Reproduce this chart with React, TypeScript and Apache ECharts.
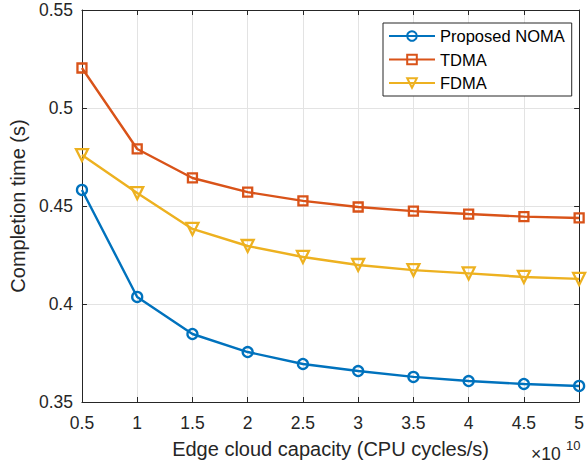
import React, { useEffect, useRef } from "react";
import * as echarts from "echarts";

const capacity = [0.5, 1, 1.5, 2, 2.5, 3, 3.5, 4, 4.5, 5];
const nomaTime = [0.4582, 0.4036, 0.3847, 0.3755, 0.3694, 0.3658, 0.3628, 0.3607, 0.3592, 0.3582];
const tdmaTime = [0.5204, 0.4791, 0.4643, 0.4571, 0.4526, 0.4495, 0.4474, 0.4459, 0.4446, 0.4439];
const fdmaTime = [0.476, 0.4566, 0.4383, 0.4296, 0.424, 0.4199, 0.4173, 0.4156, 0.4138, 0.4128];
const seriesNames = ["Proposed NOMA", "TDMA", "FDMA"];
const xLabel = "Edge cloud capacity (CPU cycles/s)";
const yLabel = "Completion time (s)";

const FONT = "'Liberation Sans', Arial, Helvetica, sans-serif";
const AX = "#262626";
const GRID = "#e3e3e3";

export default function App() {
  const ref = useRef<HTMLDivElement>(null);
  useEffect(() => {
    if (!ref.current) return;
    const chart = echarts.init(ref.current, undefined, { renderer: "svg" });
    const pair = (ys: number[]) => capacity.map((x, i) => [x, ys[i]]);
    const mk = (name: string, ys: number[], color: string, symbol: string, size: number, rotate = 0) => ({
      name,
      type: "line",
      data: pair(ys),
      symbol,
      symbolSize: size,
      symbolRotate: rotate,
      showAllSymbol: true,
      lineStyle: { color, width: 2.4 },
      itemStyle: { color: "rgba(255,255,255,0)", borderColor: color, borderWidth: 2.3 },
      emphasis: { disabled: true },
      z: 3,
    });
    const xBase = {
      type: "value",
      min: 0.5,
      max: 5,
      interval: 0.5,
      axisLine: { show: true, lineStyle: { color: AX, width: 1 } },
      axisTick: { show: true, inside: true, length: 5, lineStyle: { color: AX } },
    };
    const yBase = {
      type: "value",
      min: 0.35,
      max: 0.55,
      interval: 0.05,
      axisLine: { show: true, lineStyle: { color: AX, width: 1 } },
      axisTick: { show: true, inside: true, length: 5, lineStyle: { color: AX } },
    };
    chart.setOption({
      animation: false,
      textStyle: { fontFamily: FONT },
      grid: { left: 77, top: 10, right: 3, bottom: 64, containLabel: false },
      xAxis: [
        {
          ...xBase,
          position: "bottom",
          splitLine: { show: true, lineStyle: { color: GRID, width: 1 } },
          axisLabel: {
            color: AX,
            fontSize: 17.5,
            fontFamily: FONT,
            margin: 12,
            formatter: (v: number) => String(+v.toFixed(1)),
          },
          name: xLabel,
          nameLocation: "middle",
          nameGap: 37,
          nameTextStyle: { color: AX, fontSize: 20, fontFamily: FONT },
        },
        {
          ...xBase,
          position: "top",
          splitLine: { show: false },
          axisLabel: { show: false },
        },
      ],
      yAxis: [
        {
          ...yBase,
          position: "left",
          splitLine: { show: true, lineStyle: { color: GRID, width: 1 } },
          axisLabel: {
            color: AX,
            fontSize: 17.5,
            fontFamily: FONT,
            margin: 9,
            formatter: (v: number) => String(+v.toFixed(2)),
          },
          name: yLabel,
          nameLocation: "middle",
          nameGap: 50,
          nameTextStyle: { color: AX, fontSize: 20, fontFamily: FONT },
        },
        {
          ...yBase,
          position: "right",
          splitLine: { show: false },
          axisLabel: { show: false },
        },
      ],
      legend: {
        data: seriesNames,
        orient: "vertical",
        left: 383,
        top: 23,
        padding: [4, 7, 4, 5],
        itemWidth: 46,
        itemHeight: 12,
        itemGap: 5.5,
        backgroundColor: "#ffffff",
        borderColor: AX,
        borderWidth: 1,
        borderRadius: 0,
        textStyle: { color: "#000000", fontSize: 16.5, fontFamily: FONT, lineHeight: 18 },
      },
      graphic: [
        {
          type: "text",
          left: 531,
          top: 445,
          style: { text: "×10", fill: AX, font: `17.5px ${FONT}` },
          z: 10,
        },
        {
          type: "text",
          left: 566,
          top: 439,
          style: { text: "10", fill: AX, font: `13px ${FONT}` },
          z: 10,
        },
      ],
      series: [
        mk(seriesNames[0], nomaTime, "#0072BD", "circle", 10),
        mk(seriesNames[1], tdmaTime, "#D95319", "rect", 9),
        mk(seriesNames[2], fdmaTime, "#EDB120", "triangle", 12, 180),
      ],
    });
    return () => chart.dispose();
  }, []);
  return <div ref={ref} style={{ width: 587, height: 466, position: "absolute", left: 0, top: 0, background: "#fff" }} />;
}
